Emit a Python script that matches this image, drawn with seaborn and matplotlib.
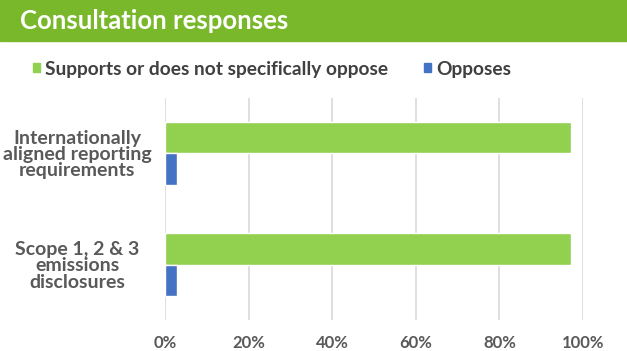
import pandas as pd
import matplotlib.pyplot as plt
import seaborn as sns
from matplotlib.patches import Rectangle

categories = ["Internationally\naligned reporting\nrequirements",
              "Scope 1, 2 & 3\nemissions\ndisclosures"]
series = ["Supports or does not specifically oppose", "Opposes"]
supports = [97, 97]
opposes = [3, 3]
tick_vals = [0, 20, 40, 60, 80, 100]

colors = {"Supports or does not specifically oppose": "#92D050", "Opposes": "#4472C4"}

df = pd.DataFrame({
    "category": categories * 2,
    "response": [series[0]] * 2 + [series[1]] * 2,
    "pct": supports + opposes,
})

sns.set_style("white")
plt.rcParams['font.family'] = ['Lato', 'DejaVu Sans']

fig = plt.figure(figsize=(6.27, 3.51), dpi=100)
ax = fig.add_axes([0.263, 0.088, 0.667, 0.633])

sns.barplot(data=df, y="category", x="pct", hue="response", palette=colors,
            width=0.56, orient="h", ax=ax, legend=False, saturation=1)

ax.set_xlim(0, 100)
ax.set_xticks(tick_vals)
ax.set_xticklabels([f"{v}%" for v in tick_vals], fontsize=12, fontweight="bold", color="#595959")
ax.set_yticks(range(len(categories)))
ax.set_yticklabels(categories, fontsize=14, fontweight="bold", color="#595959",
                   ha="center", linespacing=0.95)
ax.tick_params(axis="y", pad=63, length=0)
ax.tick_params(axis="x", pad=11, length=0)
ax.set_xlabel("")
ax.set_ylabel("")
ax.grid(axis="x", color="#D9D9D9", linewidth=1.2)
ax.set_axisbelow(True)
for s in ax.spines.values():
    s.set_visible(False)

# header band
fig.patches.append(Rectangle((0, 1 - 41 / 351), 1, 41 / 351, transform=fig.transFigure,
                             color="#78B82A", zorder=0))
fig.text(20 / 627, 1 - 21 / 351, "Consultation responses", color="white",
         fontsize=18.5, fontweight="bold", va="center", ha="left")

handles = [Rectangle((0, 0), 1, 1, color=colors[s]) for s in series]
fig.legend(handles, series, loc="center left", bbox_to_anchor=(33 / 627, 1 - 69 / 351),
           ncol=2, frameon=False, handlelength=0.37, handleheight=0.37,
           handletextpad=0.27, columnspacing=1.85, borderpad=0, borderaxespad=0,
           labelcolor="#404040", prop={"weight": "bold", "size": 13.8})

fig.savefig("out.png", dpi=100)
